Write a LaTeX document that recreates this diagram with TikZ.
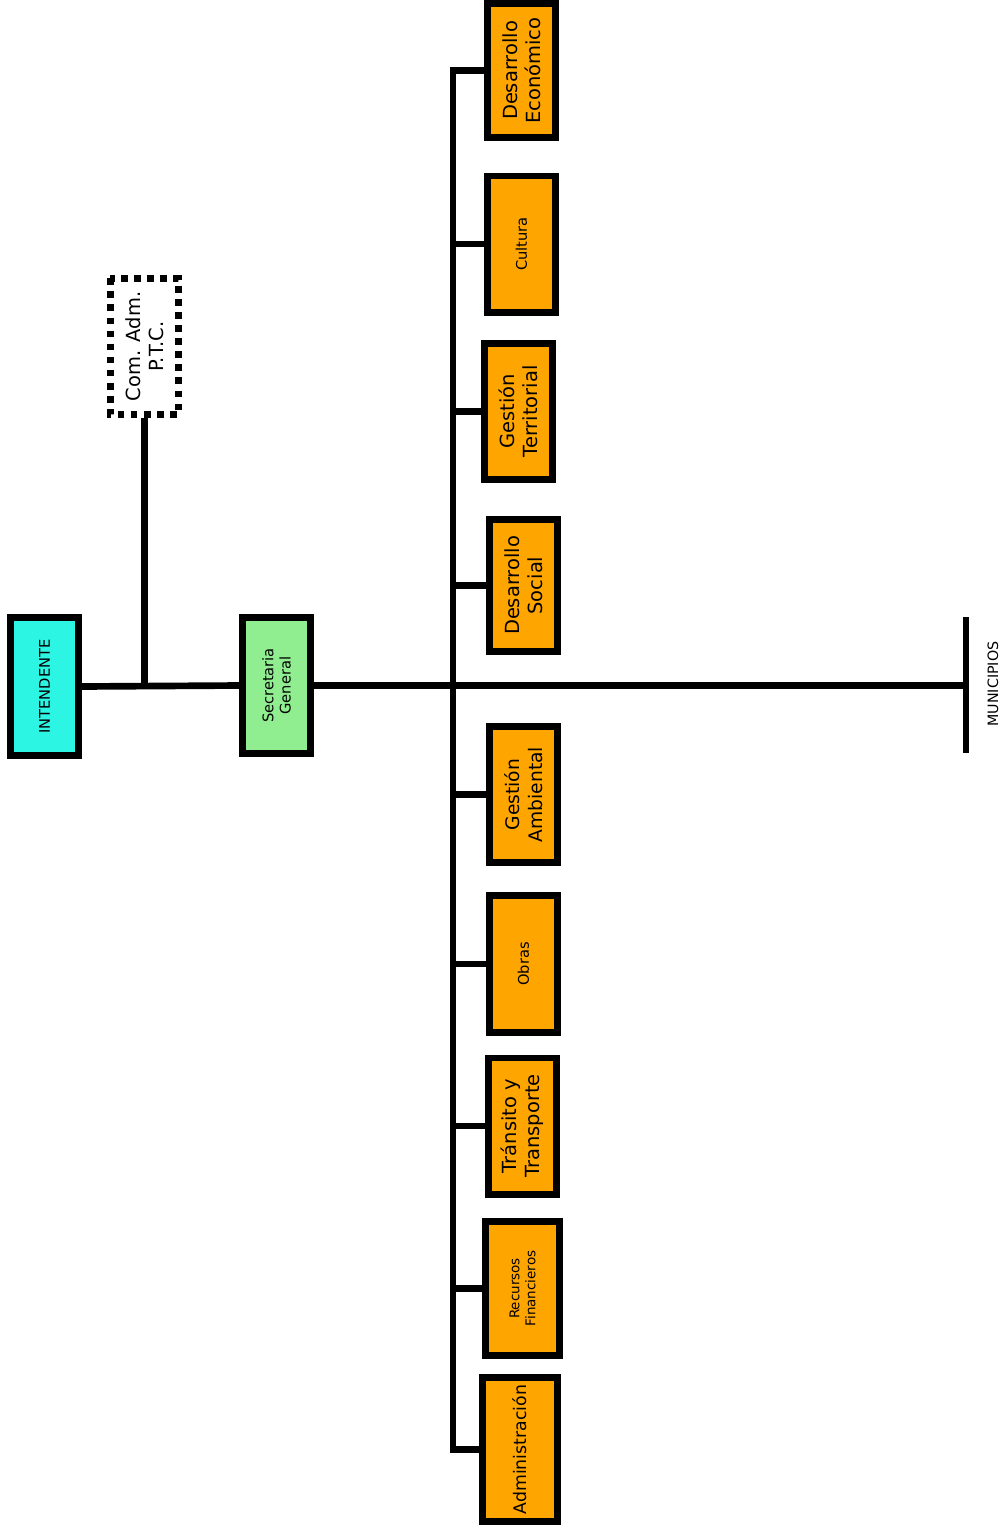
\documentclass[tikz,border=0pt]{standalone}
\usepackage{fontspec}
\setmainfont{DejaVu Sans}
\definecolor{intcyan}{RGB}{44,245,228}
\definecolor{secgreen}{RGB}{144,238,144}
\definecolor{deporange}{RGB}{255,165,0}
\tikzstyle{caja}=[rectangle, draw=black, line width=5pt,
                  rotate=90, align=center, inner sep=0pt,
                  minimum width=102.25pt, minimum height=51.25pt]
\begin{document}
\begin{tikzpicture}[x=0.75pt,y=-0.75pt,line width=5pt]
  \tikzstyle{depto}=[caja,fill=deporange]
  \tikzstyle{grande}=[font=\fontsize{14.6pt}{17.5pt}\selectfont]
  \tikzstyle{chica}=[font=\fontsize{11pt}{13pt}\selectfont]
  \useasboundingbox (0,0) rectangle (1001,1529);
  \node (intendente) at (44.5,686.5) [caja,chica,fill=intcyan,minimum width=103.75pt] {INTENDENTE};
  \node (secretaria) at (276.5,685.5) [caja,chica,fill=secgreen] {Secretaria\\General};
  \node (comadm) at (144.5,346.5) [caja,grande,dash pattern=on 5pt off 4.8pt] {Com. Adm.\\P.T.C.};
  % dependencias
  \node (deseco) at (521.5,70.5) [depto,grande,minimum width=100.75pt] {Desarrollo\\Económico};
  \node (cultura) at (521.5,244) [depto,chica] {Cultura};
  \node (gestterr) at (518.5,411.5) [depto,grande] {Gestión\\Territorial};
  \node (dessoc) at (523.5,585.5) [depto,grande,minimum width=99.25pt] {Desarrollo\\Social};
  \node (gestamb) at (523.5,794.5) [depto,font=\fontsize{14pt}{17pt}\selectfont] {Gestión\\Ambiental};
  \node (obras) at (523.5,964) [depto,chica,minimum width=103pt] {Obras};
  \node (transito) at (522.5,1126) [depto,grande] {Tránsito y\\Transporte};
  \node (recursos) at (522.5,1288.5) [depto,font=\fontsize{10.1pt}{12pt}\selectfont,minimum width=100.75pt,minimum height=55.75pt] {Recursos\\Financieros};
  \node (admin) at (520,1449.5) [depto,font=\fontsize{13pt}{15pt}\selectfont,minimum width=108.25pt,minimum height=56.5pt] {Administración};
  \coordinate (espina) at (453,685.5);
  \coordinate (muni) at (966,685.5);
  \coordinate (muniarriba) at (966,617);
  \coordinate (muniabajo) at (966,753);
  \node (municipios) at (993,684) [rotate=90,inner sep=0pt,font=\fontsize{10.7pt}{12.5pt}\selectfont] {MUNICIPIOS};
  % lineas
  \draw (intendente.south) -- (secretaria.north);
  \draw (comadm.west) -- (comadm.west |- intendente.south);
  \draw (secretaria.south) -- (muni);
  \draw (muniarriba) -- (muniabajo);
  \draw (deseco.north) -- (deseco.north -| espina) -- (admin.north -| espina) -- (admin.north);
  \foreach \u in {cultura,gestterr,dessoc,gestamb,obras,transito,recursos}
    \draw (\u.north) -- (\u.north -| espina);
\end{tikzpicture}
\end{document}
